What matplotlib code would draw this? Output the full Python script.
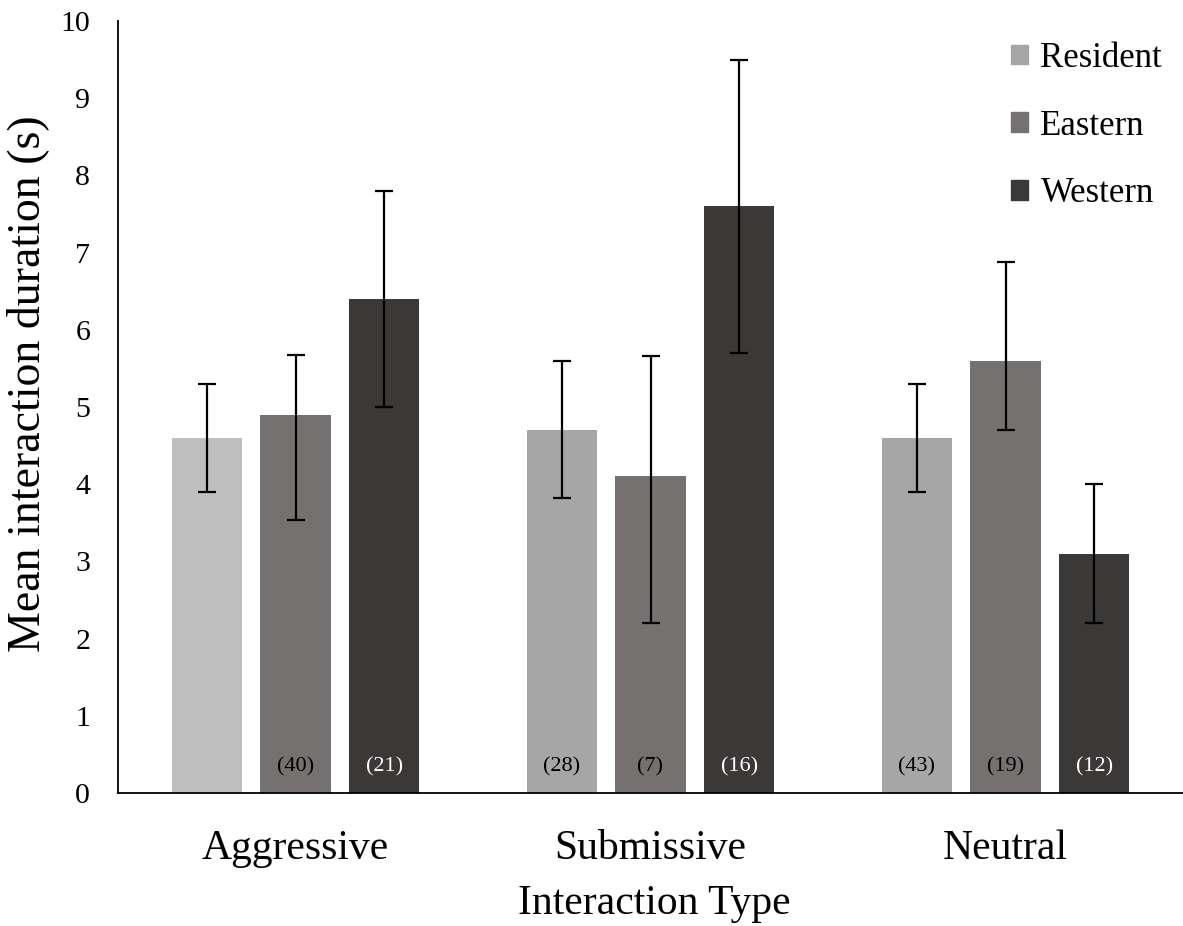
import matplotlib
matplotlib.use("Agg")
import matplotlib.pyplot as plt
import numpy as np

categories = ["Aggressive", "Submissive", "Neutral"]
series = ["Resident", "Eastern", "Western"]
means = {
    "Resident": [4.6, 4.7, 4.6],
    "Eastern": [4.9, 4.1, 5.6],
    "Western": [6.4, 7.6, 3.1],
}
err_up = {
    "Resident": [0.7, 0.9, 0.7],
    "Eastern": [0.77, 1.56, 1.28],
    "Western": [1.4, 1.9, 0.9],
}
err_down = {
    "Resident": [0.7, 0.88, 0.7],
    "Eastern": [1.37, 1.9, 0.9],
    "Western": [1.4, 1.9, 0.9],
}
counts = {
    "Resident": ["", "(28)", "(43)"],
    "Eastern": ["(40)", "(7)", "(19)"],
    "Western": ["(21)", "(16)", "(12)"],
}
colors = {
    "Resident": ["#bfbfbf", "#a6a6a6", "#a6a6a6"],
    "Eastern": ["#767171"] * 3,
    "Western": ["#3b3838"] * 3,
}
legend_colors = {"Resident": "#a6a6a6", "Eastern": "#767171", "Western": "#3b3838"}
count_text_colors = {"Resident": "black", "Eastern": "black", "Western": "white"}

plt.rcParams['font.family'] = ['Liberation Serif', 'DejaVu Serif']

W, H = 1183, 926
fig = plt.figure(figsize=(W / 100, H / 100), dpi=100)
ax = fig.add_axes([118 / W, 1 - 793 / H, (W - 118) / W, (793 - 21) / H])

x = np.arange(len(categories))
width = 0.198
offsets = [-0.25, 0.0, 0.25]

handles = []
for s, off in zip(series, offsets):
    ax.bar(x + off, means[s], width, color=colors[s], zorder=2)
    ax.errorbar(x + off, means[s], yerr=[err_down[s], err_up[s]], fmt='none',
                ecolor='black', elinewidth=1.6, capsize=6.5, capthick=1.6, zorder=3)
    for xi, lab in zip(x, counts[s]):
        if lab:
            ax.text(xi + off, 0.34, lab, ha='center', va='center',
                    fontsize=16, color=count_text_colors[s], zorder=4)
    handles.append(plt.Rectangle((0, 0), 1, 1, color=legend_colors[s]))

ax.set_xlim(-0.5, 2.5)
ax.set_ylim(0, 10)
ax.set_yticks(range(0, 11))
ax.set_xticks(x)
ax.set_xticklabels(categories, fontsize=30)
ax.tick_params(axis='x', length=0, pad=26)
ax.tick_params(axis='y', length=0, pad=20, labelsize=21.5)
for sp in ['top', 'right']:
    ax.spines[sp].set_visible(False)
ax.spines['left'].set_linewidth(1.3)
ax.spines['bottom'].set_linewidth(1.3)

fig.text(654 / W, 1 - 904 / H, "Interaction Type", ha='center', va='center', fontsize=30)
fig.text(28 / W, 1 - 384 / H, "Mean interaction duration (s)", ha='center', va='center',
         rotation=90, fontsize=33)

leg = ax.legend(handles, series, loc='upper right', bbox_to_anchor=(1.0, 1.0),
                frameon=False, fontsize=25, handlelength=0.5, handleheight=0.5,
                handletextpad=0.35, labelspacing=1.0, borderaxespad=0.2)

fig.savefig("out.png", dpi=100)
